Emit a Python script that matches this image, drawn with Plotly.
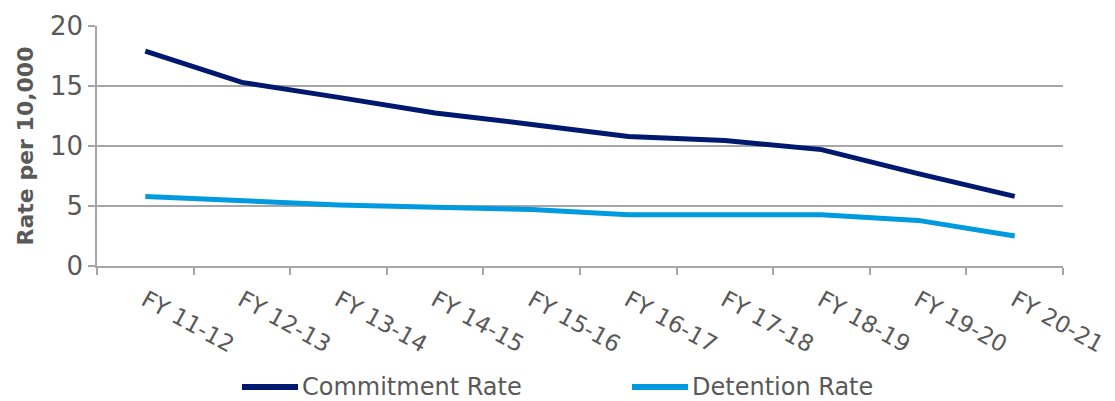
import plotly.graph_objects as go

# Fiscal years and rates per 10,000
fiscal_years = ["FY 11-12", "FY 12-13", "FY 13-14", "FY 14-15", "FY 15-16",
                "FY 16-17", "FY 17-18", "FY 18-19", "FY 19-20", "FY 20-21"]
commitment_rate = [17.9, 15.3, 14.05, 12.75, 11.8, 10.8, 10.45, 9.7, 7.7, 5.8]
detention_rate = [5.8, 5.47, 5.08, 4.89, 4.7, 4.27, 4.27, 4.27, 3.8, 2.5]
y_ticks = [0, 5, 10, 15, 20]

FONT = "DejaVu Sans"
GREY_TEXT = "#595959"
GRID = "#A6A6A6"
W, H = 1115, 401
M = dict(l=97, r=52, t=26, b=135)

series = [
    ("Commitment Rate", commitment_rate, "#00196E"),
    ("Detention Rate", detention_rate, "#009ADE"),
]

fig = go.Figure()
for name, values, color in series:
    fig.add_trace(go.Scatter(
        x=fiscal_years, y=values, name=name, mode="lines",
        line=dict(color=color, width=5), showlegend=False,
    ))

# Legend drawn below the axis: a key line followed by the series name
plot_w = W - M["l"] - M["r"]
plot_h = H - M["t"] - M["b"]
def px_x(px):
    return (px - M["l"]) / plot_w
def px_y(py):
    return (H - M["b"] - py) / plot_h

legend_y = px_y(387)
key_starts = [242, 632]
for (name, _, color), x0 in zip(series, key_starts):
    fig.add_shape(type="line", xref="paper", yref="paper",
                  x0=px_x(x0), x1=px_x(x0 + 56), y0=legend_y, y1=legend_y,
                  line=dict(color=color, width=6))
    fig.add_annotation(xref="paper", yref="paper", x=px_x(x0 + 58), y=legend_y,
                       text=name, showarrow=False, xanchor="left", yanchor="middle",
                       font=dict(size=24, color=GREY_TEXT, family=FONT))

fig.update_layout(
    width=W, height=H,
    margin=dict(**M, autoexpand=False),
    paper_bgcolor="white", plot_bgcolor="white",
    font=dict(family=FONT, color=GREY_TEXT),
    showlegend=False,
    xaxis=dict(
        type="category", range=[-0.5, len(fiscal_years) - 0.5],
        tickangle=29, tickson="boundaries",
        ticks="outside", ticklen=7, tickcolor=GRID, tickwidth=1.5,
        showline=True, linecolor=GRID, linewidth=1.5,
        showgrid=False, zeroline=False, automargin=False,
        tickfont=dict(size=23, color=GREY_TEXT), ticklabelstandoff=10,
    ),
    yaxis=dict(
        range=[0, 20], tickvals=y_ticks,
        ticks="outside", ticklen=7, tickcolor=GRID, tickwidth=1.5,
        showline=True, linecolor=GRID, linewidth=1.5,
        showgrid=True, gridcolor=GRID, gridwidth=1.5, zeroline=False,
        automargin=False,
        tickfont=dict(size=26, color=GREY_TEXT),
        title=dict(text="<b>Rate per 10,000</b>", font=dict(size=22, color=GREY_TEXT), standoff=10),
    ),
)

fig.write_html("out.html")
